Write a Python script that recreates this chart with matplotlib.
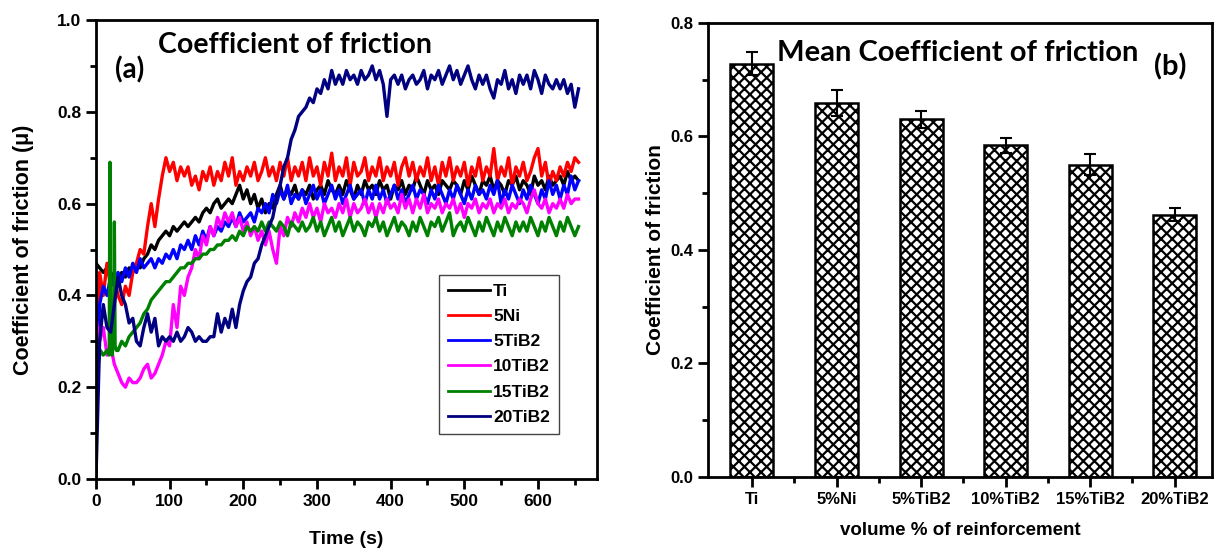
import numpy as np
import matplotlib.pyplot as plt

# ---- (a) friction traces, every 5 s ----
t_grid = list(range(0, 660, 5))

mu_ti = [0.47, 0.46, 0.45, 0.46, 0.44, 0.45,
         0.43, 0.45, 0.44, 0.46, 0.45, 0.47, 0.46, 0.48, 0.49, 0.51,
         0.50, 0.52, 0.53, 0.54, 0.53, 0.55, 0.54, 0.55, 0.56, 0.55,
         0.56, 0.57, 0.56, 0.58, 0.59, 0.58, 0.60, 0.61, 0.59, 0.60,
         0.61, 0.60, 0.62, 0.64, 0.61, 0.63, 0.60, 0.62, 0.59, 0.61,
         0.58, 0.60, 0.59, 0.62, 0.64, 0.61, 0.63, 0.62, 0.64, 0.61,
         0.63, 0.62, 0.64, 0.61, 0.63, 0.64, 0.62, 0.65, 0.63, 0.62,
         0.64, 0.62, 0.65, 0.63, 0.61, 0.64, 0.62, 0.65, 0.63, 0.64,
         0.62, 0.65, 0.63, 0.64, 0.61, 0.64, 0.63, 0.65, 0.62, 0.64,
         0.63, 0.66, 0.64, 0.62, 0.65, 0.63, 0.64, 0.62, 0.65, 0.64,
         0.63, 0.65, 0.64, 0.62, 0.65, 0.63, 0.66, 0.64, 0.62, 0.65,
         0.64, 0.66, 0.63, 0.65, 0.64, 0.62, 0.65, 0.64, 0.66, 0.63,
         0.65, 0.64, 0.62, 0.66, 0.64, 0.65, 0.63, 0.66, 0.64, 0.65,
         0.66, 0.64, 0.67, 0.65, 0.66, 0.65]

mu_ni = [0.10, 0.45, 0.40, 0.47, 0.42, 0.44,
         0.40, 0.38, 0.42, 0.40, 0.45, 0.47, 0.50, 0.49, 0.55, 0.60,
         0.55, 0.61, 0.66, 0.70, 0.67, 0.69, 0.65, 0.68, 0.66, 0.68,
         0.64, 0.66, 0.63, 0.67, 0.65, 0.68, 0.64, 0.67, 0.65, 0.69,
         0.66, 0.70, 0.64, 0.67, 0.65, 0.68, 0.66, 0.69, 0.65, 0.67,
         0.70, 0.66, 0.68, 0.65, 0.69, 0.66, 0.70, 0.65, 0.68, 0.66,
         0.69, 0.65, 0.70, 0.66, 0.68, 0.64, 0.69, 0.66, 0.71, 0.65,
         0.68, 0.66, 0.70, 0.64, 0.69, 0.66, 0.67, 0.70, 0.65, 0.68,
         0.66, 0.70, 0.65, 0.68, 0.66, 0.69, 0.64, 0.68, 0.70, 0.66,
         0.69, 0.65, 0.68, 0.66, 0.70, 0.65, 0.68, 0.64, 0.69, 0.66,
         0.70, 0.65, 0.68, 0.66, 0.69, 0.64, 0.68, 0.66, 0.70, 0.65,
         0.68, 0.66, 0.72, 0.65, 0.68, 0.66, 0.70, 0.64, 0.68, 0.66,
         0.69, 0.65, 0.67, 0.70, 0.72, 0.66, 0.69, 0.64, 0.67, 0.65,
         0.68, 0.66, 0.69, 0.67, 0.70, 0.69]

mu_5tib2 = [0.20, 0.38, 0.42, 0.40, 0.44, 0.42,
            0.45, 0.43, 0.46, 0.44, 0.47, 0.45, 0.48, 0.46, 0.47, 0.48,
            0.46, 0.48, 0.47, 0.49, 0.48, 0.50, 0.48, 0.51, 0.50, 0.52,
            0.50, 0.53, 0.51, 0.54, 0.52, 0.55, 0.53, 0.55, 0.54, 0.56,
            0.55, 0.57, 0.55, 0.58, 0.56, 0.57, 0.58, 0.56, 0.59, 0.58,
            0.60, 0.58, 0.62, 0.60, 0.63, 0.61, 0.64, 0.60, 0.62, 0.61,
            0.63, 0.60, 0.62, 0.64, 0.61, 0.63, 0.60, 0.62, 0.64, 0.61,
            0.63, 0.60, 0.62, 0.64, 0.61, 0.62, 0.63, 0.60, 0.63, 0.61,
            0.64, 0.61, 0.63, 0.60, 0.62, 0.64, 0.61, 0.63, 0.60, 0.62,
            0.64, 0.61, 0.63, 0.62, 0.60, 0.63, 0.61, 0.64, 0.62, 0.60,
            0.63, 0.61, 0.64, 0.62, 0.60, 0.63, 0.61, 0.64, 0.62, 0.63,
            0.61, 0.64, 0.62, 0.65, 0.60, 0.63, 0.61, 0.64, 0.62, 0.60,
            0.63, 0.61, 0.64, 0.62, 0.60, 0.63, 0.61, 0.65, 0.62, 0.64,
            0.61, 0.64, 0.62, 0.66, 0.63, 0.65]

mu_10tib2 = [0.35, 0.30, 0.33, 0.27, 0.29, 0.25,
             0.23, 0.21, 0.20, 0.22, 0.21, 0.21, 0.22, 0.24, 0.25, 0.22,
             0.23, 0.25, 0.27, 0.30, 0.29, 0.38, 0.33, 0.42, 0.40, 0.44,
             0.46, 0.50, 0.48, 0.53, 0.51, 0.55, 0.53, 0.57, 0.55, 0.58,
             0.56, 0.58, 0.55, 0.57, 0.54, 0.56, 0.53, 0.55, 0.52, 0.54,
             0.51, 0.54, 0.50, 0.47, 0.55, 0.53, 0.57, 0.55, 0.58, 0.56,
             0.59, 0.57, 0.60, 0.57, 0.59, 0.56, 0.60, 0.58, 0.59, 0.57,
             0.60, 0.58, 0.61, 0.57, 0.60, 0.58, 0.59, 0.61, 0.58, 0.60,
             0.57, 0.60, 0.58, 0.61, 0.59, 0.60, 0.58, 0.62, 0.59, 0.61,
             0.58, 0.61, 0.59, 0.62, 0.58, 0.60, 0.59, 0.61, 0.58, 0.60,
             0.59, 0.61, 0.58, 0.60, 0.57, 0.60, 0.59, 0.61, 0.58, 0.60,
             0.59, 0.61, 0.58, 0.60, 0.59, 0.61, 0.58, 0.60, 0.59, 0.61,
             0.60, 0.58, 0.61, 0.63, 0.60, 0.59, 0.61, 0.58, 0.60, 0.59,
             0.61, 0.59, 0.62, 0.60, 0.61, 0.61]

# 15TiB2 has two short spikes near the start, so its first 30 s are listed by hand
t_15tib2 = [0, 3, 6, 10, 15, 18, 19, 20, 22, 24, 25, 26, 28] + list(range(30, 660, 5))
mu_15tib2 = [0.20, 0.25, 0.28, 0.27, 0.28, 0.27, 0.69, 0.30, 0.27, 0.30, 0.56, 0.29, 0.28,
             0.28, 0.30, 0.29, 0.31, 0.32, 0.33, 0.34, 0.36, 0.37, 0.39,
             0.40, 0.41, 0.42, 0.43, 0.43, 0.44, 0.45, 0.46, 0.46, 0.47,
             0.47, 0.48, 0.48, 0.49, 0.49, 0.50, 0.50, 0.51, 0.51, 0.52,
             0.52, 0.53, 0.52, 0.54, 0.53, 0.55, 0.54, 0.55, 0.54, 0.56,
             0.54, 0.56, 0.55, 0.54, 0.56, 0.55, 0.53, 0.56, 0.55, 0.54,
             0.56, 0.54, 0.55, 0.57, 0.54, 0.56, 0.53, 0.55, 0.57, 0.54,
             0.56, 0.53, 0.55, 0.57, 0.54, 0.56, 0.55, 0.53, 0.56, 0.55,
             0.57, 0.54, 0.56, 0.53, 0.55, 0.57, 0.54, 0.56, 0.55, 0.53,
             0.56, 0.54, 0.57, 0.55, 0.53, 0.56, 0.55, 0.57, 0.54, 0.56,
             0.58, 0.53, 0.55, 0.56, 0.54, 0.57, 0.55, 0.53, 0.56, 0.54,
             0.57, 0.55, 0.53, 0.56, 0.54, 0.57, 0.55, 0.53, 0.56, 0.54,
             0.56, 0.54, 0.57, 0.55, 0.53, 0.56, 0.54, 0.57, 0.55, 0.53,
             0.56, 0.54, 0.57, 0.55, 0.53, 0.55]

mu_20tib2 = [0.00, 0.30, 0.38, 0.33, 0.32, 0.38,
             0.44, 0.40, 0.38, 0.34, 0.35, 0.30, 0.29, 0.33, 0.36, 0.32,
             0.35, 0.29, 0.31, 0.30, 0.31, 0.30, 0.32, 0.30, 0.31, 0.33,
             0.32, 0.30, 0.31, 0.30, 0.30, 0.31, 0.31, 0.36, 0.32, 0.35,
             0.33, 0.37, 0.33, 0.38, 0.41, 0.43, 0.44, 0.47, 0.48, 0.51,
             0.53, 0.55, 0.57, 0.61, 0.64, 0.68, 0.70, 0.74, 0.76, 0.79,
             0.80, 0.81, 0.83, 0.82, 0.85, 0.84, 0.87, 0.85, 0.89, 0.86,
             0.88, 0.86, 0.89, 0.87, 0.88, 0.86, 0.89, 0.87, 0.88, 0.90,
             0.87, 0.89, 0.86, 0.79, 0.87, 0.88, 0.86, 0.88, 0.85, 0.87,
             0.88, 0.86, 0.87, 0.89, 0.85, 0.88, 0.87, 0.89, 0.86, 0.88,
             0.90, 0.87, 0.89, 0.86, 0.88, 0.90, 0.87, 0.85, 0.88, 0.86,
             0.88, 0.85, 0.83, 0.87, 0.86, 0.89, 0.85, 0.87, 0.84, 0.88,
             0.86, 0.88, 0.85, 0.89, 0.87, 0.84, 0.88, 0.86, 0.85, 0.87,
             0.85, 0.87, 0.84, 0.86, 0.81, 0.85]

series = [
    ("Ti", t_grid, mu_ti, "black"),
    ("5Ni", t_grid, mu_ni, "#ff0000"),
    ("5TiB2", t_grid, mu_5tib2, "#0000ff"),
    ("10TiB2", t_grid, mu_10tib2, "#ff00ff"),
    ("15TiB2", t_15tib2, mu_15tib2, "#008000"),
    ("20TiB2", t_grid, mu_20tib2, "#000080"),
]

# ---- (b) mean COF ----
materials = ["Ti", "5%Ni", "5%TiB2", "10%TiB2", "15%TiB2", "20%TiB2"]
mean_cof = [0.728, 0.658, 0.630, 0.584, 0.550, 0.462]
cof_err = [0.020, 0.023, 0.015, 0.013, 0.019, 0.012]

plt.rcParams['font.family'] = ['Liberation Sans', 'DejaVu Sans']
plt.rcParams['hatch.linewidth'] = 1.6

fig = plt.figure(figsize=(12.16, 5.53), dpi=100)
ax1 = fig.add_axes([0.0789, 0.1338, 0.412, 0.830])
ax2 = fig.add_axes([0.5822, 0.1374, 0.4145, 0.8215])

for name, t, mu, c in series:
    ax1.plot(t, mu, color=c, lw=2.4, label=name)

ax1.set_xlim(0, 680)
ax1.set_ylim(0, 1.0)
ax1.set_xticks(np.arange(0, 700, 100))
ax1.set_xticks(np.arange(50, 700, 100), minor=True)
ax1.set_yticks(np.arange(0, 1.01, 0.2))
ax1.set_yticks(np.arange(0.1, 1.0, 0.2), minor=True)
ax1.set_yticklabels([f"{v:.1f}" for v in np.arange(0, 1.01, 0.2)])
ax1.set_xlabel("Time (s)", fontsize=14, fontweight='bold')
ax1.set_ylabel("Coefficient of friction (\u03bc)", fontsize=15.5, fontweight='bold')
ax1.xaxis.set_label_coords(0.5, -0.131)
ax1.yaxis.set_label_coords(-0.145, 0.5)
ax1.xaxis.label.set_va('center')
ax1.yaxis.label.set_va('center')
ax1.text(0.397, 0.945, "Coefficient of friction", transform=ax1.transAxes, ha='center',
         va='center', fontsize=20.5, fontweight='bold', family='Lato')
ax1.text(0.068, 0.891, "(a)", transform=ax1.transAxes, ha='center', va='center',
         fontsize=20, fontweight='bold', family='Lato')
leg = ax1.legend(loc='lower left', bbox_to_anchor=(0.668, 0.080), fancybox=False,
                 edgecolor='#444444', framealpha=1, handlelength=2.4, handletextpad=0.2,
                 labelspacing=0.58, borderpad=0.5, prop={'weight': 'bold', 'size': 12.5})
for h in leg.get_lines():
    h.set_linewidth(2)

x = np.arange(len(materials))
ax2.bar(x, mean_cof, width=0.51, color='white', edgecolor='black', hatch='xxx', lw=1.8, zorder=2)
ax2.errorbar(x, mean_cof, yerr=cof_err, fmt='none', ecolor='black', elinewidth=1.5,
             capsize=4, capthick=1.5, zorder=3)
ax2.set_xlim(-0.52, 5.44)
ax2.set_ylim(0, 0.8)
ax2.set_xticks(x)
ax2.set_xticklabels(materials)
ax2.set_xticks(x[:-1] + 0.5, minor=True)
ax2.set_yticks(np.arange(0, 0.81, 0.2))
ax2.set_yticks(np.arange(0.1, 0.8, 0.2), minor=True)
ax2.set_yticklabels([f"{v:.1f}" for v in np.arange(0, 0.81, 0.2)])
ax2.set_xlabel("volume % of reinforcement", fontsize=13.5, fontweight='bold')
ax2.set_ylabel("Coefficient of friction", fontsize=15, fontweight='bold')
ax2.xaxis.set_label_coords(0.5, -0.117)
ax2.yaxis.set_label_coords(-0.105, 0.5)
ax2.xaxis.label.set_va('center')
ax2.yaxis.label.set_va('center')
ax2.text(0.496, 0.933, "Mean Coefficient of friction", transform=ax2.transAxes, ha='center',
         va='center', fontsize=21, fontweight='bold', family='Lato')
ax2.text(0.917, 0.902, "(b)", transform=ax2.transAxes, ha='center', va='center',
         fontsize=21, fontweight='bold', family='Lato')

for ax, ls in ((ax1, 12.5), (ax2, 12)):
    for s in ax.spines.values():
        s.set_linewidth(2)
    ax.tick_params(which='major', direction='out', length=7, width=2, labelsize=ls)
    ax.tick_params(which='minor', direction='out', length=4, width=2)
    for lab in ax.get_xticklabels() + ax.get_yticklabels():
        lab.set_fontweight('bold')

fig.savefig("out.png", dpi=100)
